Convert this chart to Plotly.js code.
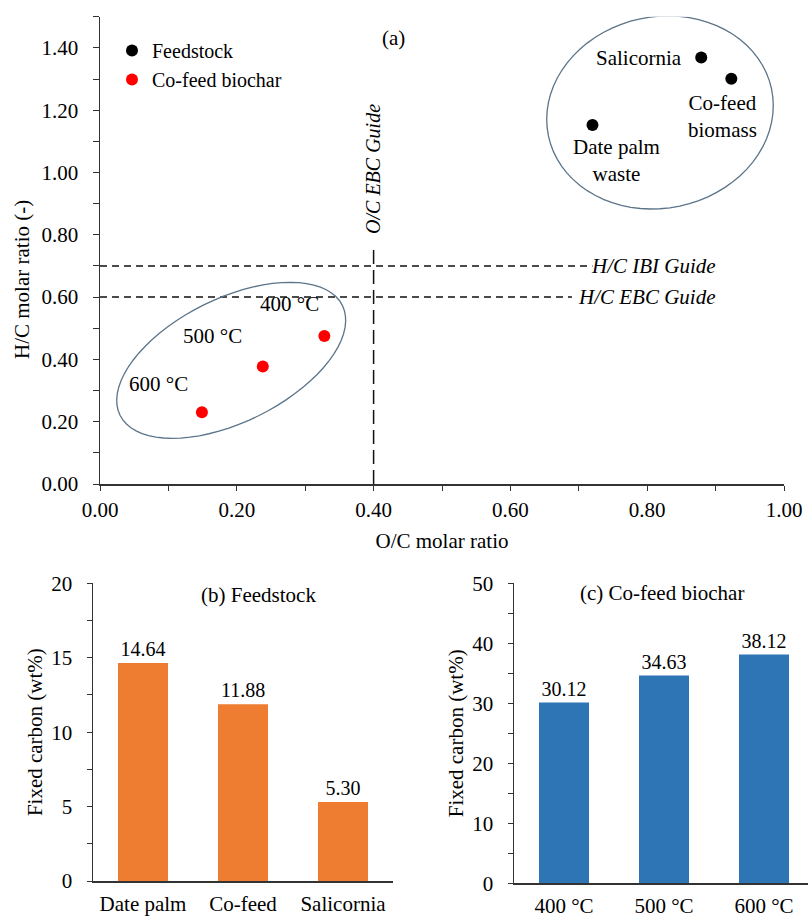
<!DOCTYPE html>
<html><head><meta charset="utf-8">
<script src="https://cdn.plot.ly/plotly-3.0.1.min.js"></script>
<style>body{margin:0;background:#fff}#chart{width:808px;height:917px}</style>
</head><body><div id="chart"></div><script>
// ---- data ----
const feedNames = ['Salicornia', 'Co-feed<br>biomass', 'Date palm<br>waste'];
const feedOC = [0.879, 0.923, 0.720];
const feedHC = [1.369, 1.301, 1.152];
const charNames = ['400 °C', '500 °C', '600 °C'];
const charOC = [0.328, 0.238, 0.149];
const charHC = [0.475, 0.377, 0.230];
const feedCats = ['Date palm', 'Co-feed', 'Salicornia'];
const feedFC = [14.64, 11.88, 5.30];
const charCats = ['400 °C', '500 °C', '600 °C'];
const charFC = [30.12, 34.63, 38.12];
const guideIBI_HC = 0.7;
const guideEBC_HC = 0.6;
const guideEBC_OC = 0.4;

// ---- geometry ----
const W = 808, H = 917;
const topX = [100, 784], topY = [16.7, 484];   // pixel extents of panel (a)
const xRangeA = [0, 1], yRangeA = [0, 1.5];
const pxPerX = (topX[1] - topX[0]) / (xRangeA[1] - xRangeA[0]);
const pxPerY = (topY[1] - topY[0]) / (yRangeA[1] - yRangeA[0]);

function ellipsePath(cx, cy, a, b, deg) {
  const th = deg * Math.PI / 180;
  let d = '';
  for (let i = 0; i <= 72; i++) {
    const t = i / 72 * 2 * Math.PI;
    const px = a * Math.cos(t) * Math.cos(th) - b * Math.sin(t) * Math.sin(th);
    const py = a * Math.cos(t) * Math.sin(th) + b * Math.sin(t) * Math.cos(th);
    const x = cx + px / pxPerX, y = cy + py / pxPerY;
    d += (i === 0 ? 'M' : 'L') + x.toFixed(5) + ',' + y.toFixed(5);
  }
  return d + 'Z';
}

const FONT = 'Liberation Serif, Times New Roman, serif';
const FS = 21;
const AX = '#333333';

const traces = [
  {type: 'scatter', mode: 'markers', name: 'Feedstock', x: feedOC, y: feedHC,
   marker: {color: '#000000', size: 12}, xaxis: 'x', yaxis: 'y', hoverinfo: 'skip'},
  {type: 'scatter', mode: 'markers', name: 'Co-feed biochar', x: charOC, y: charHC,
   marker: {color: '#ff0000', size: 12}, xaxis: 'x', yaxis: 'y', hoverinfo: 'skip'},
  {type: 'bar', x: feedCats, y: feedFC, xaxis: 'x2', yaxis: 'y2', showlegend: false,
   marker: {color: '#ee7d31'}, texttemplate: '%{y:.2f}', textposition: 'outside',
   textfont: {size: 20, color: '#000'}, cliponaxis: false, constraintext: 'none'},
  {type: 'bar', x: charCats, y: charFC, xaxis: 'x3', yaxis: 'y3', showlegend: false,
   marker: {color: '#2e75b6'}, texttemplate: '%{y:.2f}', textposition: 'outside',
   textfont: {size: 20, color: '#000'}, cliponaxis: false, constraintext: 'none'}
];

const labelShift = [[-62, 0], [-9, -38], [24, -35]];
const charShift = [[-35, 32], [-50, 31], [-43, 28]];

const C = {xanchor: 'center', yanchor: 'middle', showarrow: false};
const annotations = [];
feedNames.forEach((n, i) => annotations.push(Object.assign({x: feedOC[i], y: feedHC[i], xref: 'x', yref: 'y',
  text: n, xshift: labelShift[i][0], yshift: labelShift[i][1], align: 'center'}, C)));
charNames.forEach((n, i) => annotations.push(Object.assign({x: charOC[i], y: charHC[i], xref: 'x', yref: 'y',
  text: n, xshift: charShift[i][0], yshift: charShift[i][1]}, C)));
annotations.push(
  Object.assign({x: 393 / W, y: 1 - 38 / H, xref: 'paper', yref: 'paper', text: '(a)'}, C),
  {x: 0.904, y: guideIBI_HC, xref: 'x', yref: 'y', text: '<i>H/C IBI Guide</i>', showarrow: false, xanchor: 'right', yanchor: 'middle', font: {size: 21}},
  {x: 0.904, y: guideEBC_HC, xref: 'x', yref: 'y', text: '<i>H/C EBC Guide</i>', showarrow: false, xanchor: 'right', yanchor: 'middle', font: {size: 21}},
  Object.assign({x: guideEBC_OC, y: 1.01, xref: 'x', yref: 'y', text: '<i>O/C EBC Guide</i>', textangle: -90, font: {size: 20}}, C),
  Object.assign({x: 22 / W, y: 1 - 280 / H, xref: 'paper', yref: 'paper', text: 'H/C molar ratio (-)', textangle: -90}, C),
  Object.assign({x: 258 / W, y: 1 - 595 / H, xref: 'paper', yref: 'paper', text: '(b) Feedstock'}, C),
  Object.assign({x: 661.5 / W, y: 1 - 593 / H, xref: 'paper', yref: 'paper', text: '(c) Co-feed biochar'}, C)
);

const shapes = [
  {type: 'line', xref: 'x', yref: 'y', x0: 0, x1: 0.72, y0: guideIBI_HC, y1: guideIBI_HC,
   line: {color: '#111', width: 1.5, dash: '7px,5px'}},
  {type: 'line', xref: 'x', yref: 'y', x0: 0, x1: 0.69, y0: guideEBC_HC, y1: guideEBC_HC,
   line: {color: '#111', width: 1.5, dash: '7px,5px'}},
  {type: 'line', xref: 'x', yref: 'y', x0: guideEBC_OC, x1: guideEBC_OC, y0: 0, y1: 0.76,
   line: {color: '#111', width: 1.5, dash: '14px,6px'}},
  {type: 'path', xref: 'x', yref: 'y', path: ellipsePath(0.8187, 1.1926, 114, 95.7, 11.9),
   line: {color: '#5b7489', width: 1.3}},
  {type: 'path', xref: 'x', yref: 'y', path: ellipsePath(0.1918, 0.397, 124, 61.8, 26.3),
   line: {color: '#5b7489', width: 1.3}}
];

const baseAxis = {showline: true, linecolor: AX, linewidth: 1.5, showgrid: false, zeroline: false,
  tickcolor: AX, tickfont: {size: FS, color: '#000'}, fixedrange: true};

const layout = {
  width: W, height: H, margin: {l: 0, r: 0, t: 0, b: 0},
  paper_bgcolor: '#fff', plot_bgcolor: 'rgba(0,0,0,0)',
  font: {family: FONT, size: FS, color: '#000'},
  bargap: 0.5, showlegend: true,
  legend: {x: 112 / W, y: 1 - 31 / H, xanchor: 'left', yanchor: 'top', bgcolor: 'rgba(0,0,0,0)',
    font: {size: 20}, itemwidth: 30, tracegroupgap: 0},
  xaxis: Object.assign({}, baseAxis, {domain: [topX[0] / W, topX[1] / W], range: xRangeA, anchor: 'y',
    dtick: 0.2, tick0: 0, tickformat: '.2f', ticks: 'outside', ticklen: 5, ticklabelstandoff: 1,
    minor: {dtick: 0.1, ticks: 'outside', ticklen: 5, tickcolor: AX},
    title: {text: 'O/C molar ratio', standoff: 12, font: {size: FS}}}),
  yaxis: Object.assign({}, baseAxis, {domain: [1 - topY[1] / H, 1 - topY[0] / H], range: yRangeA, anchor: 'x',
    dtick: 0.2, tick0: 0, tickformat: '.2f', ticks: 'outside', ticklen: 6, ticklabelstandoff: 10,
    minor: {dtick: 0.1, ticks: 'outside', ticklen: 6, tickcolor: AX}}),
  xaxis2: Object.assign({}, baseAxis, {domain: [93 / W, 393 / W], range: [-0.5, 2.5], anchor: 'y2',
    ticks: '', ticklabelstandoff: 3}),
  yaxis2: Object.assign({}, baseAxis, {domain: [1 - 881 / H, 1 - 583.3 / H], range: [0, 20], anchor: 'x2',
    dtick: 5, ticks: 'outside', ticklen: 5, ticklabelstandoff: 10,
    minor: {dtick: 2.5, ticks: 'outside', ticklen: 5, tickcolor: AX},
    title: {text: 'Fixed carbon (wt%)', standoff: 3, font: {size: FS}}}),
  xaxis3: Object.assign({}, baseAxis, {domain: [514 / W, 1], range: [-0.5, 2.44], anchor: 'y3',
    ticks: '', ticklabelstandoff: 3}),
  yaxis3: Object.assign({}, baseAxis, {domain: [1 - 883.3 / H, 1 - 583.3 / H], range: [0, 50], anchor: 'x3',
    dtick: 10, ticks: 'outside', ticklen: 5, ticklabelstandoff: 10,
    minor: {dtick: 5, ticks: 'outside', ticklen: 5, tickcolor: AX},
    title: {text: 'Fixed carbon (wt%)', standoff: 3, font: {size: FS}}}),
  annotations: annotations, shapes: shapes
};

Plotly.newPlot('chart', traces, layout, {displayModeBar: false, staticPlot: true});
</script></body></html>
